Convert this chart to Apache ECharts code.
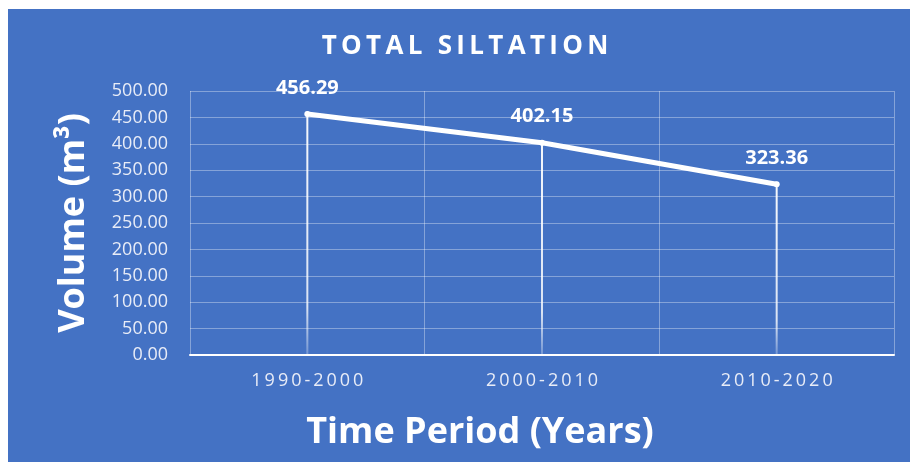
<!DOCTYPE html>
<html>
<head>
<meta charset="utf-8">
<script src="https://cdn.jsdelivr.net/npm/echarts@6/dist/echarts.min.js"></script>
<style>
  html, body { margin: 0; padding: 0; background: #fff; }
  #chart { width: 912px; height: 466px; }
</style>
</head>
<body>
<div id="chart"></div>
<script>
var periods = ['1990-2000', '2000-2010', '2010-2020'];
var volumes = [456.29, 402.15, 323.36];
var yTicks = [0, 50, 100, 150, 200, 250, 300, 350, 400, 450, 500];

// spread letters a little, like the Excel rendering
function spaced(s, gap) {
    return s.split('').join(gap);
}

var myChart = echarts.init(document.getElementById('chart'));

var option = {
    backgroundColor: '#ffffff',
    animation: false,
    grid: {
        left: 190,
        right: 18,
        top: 91,
        bottom: 111
    },
    graphic: [{
        type: 'rect',
        z: -10,
        shape: { x: 8, y: 9, width: 902, height: 453 },
        style: { fill: '#4472C4' }
    }, {
        type: 'text',
        x: 465,
        y: 47,
        style: {
            text: spaced('TOTAL SILTATION', '\u2009'),
            fill: '#ffffff',
            font: 'bold 26px "Open Sans"',
            textAlign: 'center',
            textVerticalAlign: 'middle'
        }
    }, {
        type: 'text',
        x: 480,
        y: 433,
        style: {
            text: 'Time Period (Years)',
            fill: '#ffffff',
            font: 'bold 36px "Open Sans"',
            textAlign: 'center',
            textVerticalAlign: 'middle'
        }
    }],
    xAxis: {
        type: 'category',
        data: periods,
        boundaryGap: true,
        axisTick: { show: false },
        axisLine: {
            show: true,
            lineStyle: { color: '#ffffff', width: 2 }
        },
        splitLine: {
            show: true,
            lineStyle: { color: 'rgba(255,255,255,0.35)', width: 1 }
        },
        axisLabel: {
            margin: 17,
            color: '#e8ecf7',
            fontSize: 18,
            fontFamily: 'Open Sans',
            formatter: function (v) { return spaced(v, '\u2009'); }
        }
    },
    yAxis: {
        type: 'value',
        min: yTicks[0],
        max: yTicks[yTicks.length - 1],
        interval: 50,
        name: 'Volume (m³)',
        nameLocation: 'middle',
        nameGap: 98,
        nameTextStyle: {
            color: '#ffffff',
            fontSize: 36,
            fontWeight: 'bold',
            fontFamily: 'Open Sans'
        },
        axisLine: { show: false },
        axisTick: { show: false },
        splitLine: {
            show: true,
            lineStyle: { color: 'rgba(255,255,255,0.35)', width: 1 }
        },
        axisLabel: {
            margin: 22,
            color: '#e8ecf7',
            fontSize: 18,
            fontFamily: 'Open Sans',
            formatter: function (v) { return v.toFixed(2); }
        }
    },
    series: [{
        // drop lines from each point down to the axis
        type: 'bar',
        data: volumes,
        barWidth: 2,
        silent: true,
        z: 1,
        itemStyle: {
            color: new echarts.graphic.LinearGradient(0, 0, 0, 1, [
                { offset: 0, color: 'rgba(255,255,255,0.95)' },
                { offset: 0.8, color: 'rgba(255,255,255,0.8)' },
                { offset: 1, color: 'rgba(255,255,255,0.25)' }
            ])
        }
    }, {
        name: 'Total siltation',
        type: 'line',
        data: volumes,
        z: 3,
        symbol: 'circle',
        symbolSize: 6,
        lineStyle: { color: '#ffffff', width: 5, cap: 'round' },
        itemStyle: { color: '#ffffff' },
        label: {
            show: true,
            position: 'top',
            distance: 13,
            color: '#ffffff',
            fontSize: 20,
            fontWeight: 'bold',
            fontFamily: 'Open Sans',
            formatter: function (p) { return p.value.toFixed(2); }
        }
    }]
};

myChart.setOption(option);
</script>
</body>
</html>
